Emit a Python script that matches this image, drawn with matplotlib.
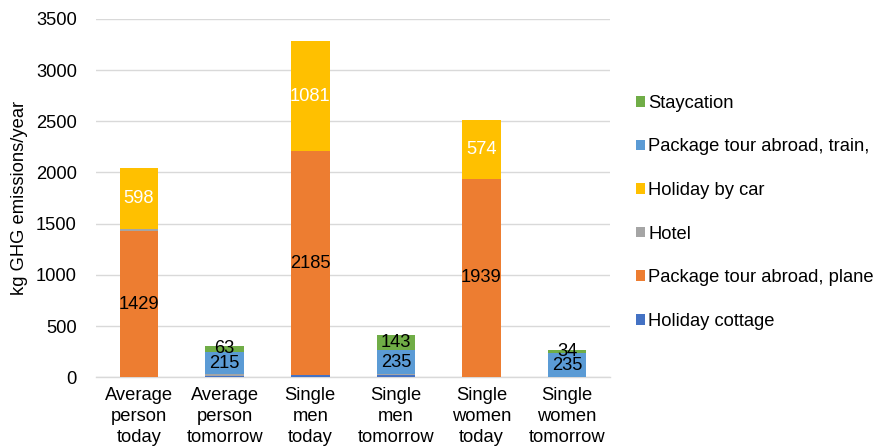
import numpy as np
import matplotlib.pyplot as plt

plt.rcParams['font.family'] = ['Liberation Sans', 'DejaVu Sans']

# 各組別與各類假期的年排放量 (kg GHG)
groups = ['Average\nperson\ntoday', 'Average\nperson\ntomorrow', 'Single\nmen\ntoday',
          'Single\nmen\ntomorrow', 'Single\nwomen\ntoday', 'Single\nwomen\ntomorrow']
holiday_cottage = [0, 10, 20, 20, 0, 0]
tour_plane = [1429, 0, 2185, 0, 1939, 0]
hotel = [20, 20, 0, 10, 0, 0]
holiday_car = [598, 0, 1081, 0, 574, 0]
tour_train = [0, 215, 0, 235, 0, 235]
staycation = [0, 63, 0, 143, 0, 34]

series_names = ['Holiday cottage', 'Package tour abroad, plane', 'Hotel',
                'Holiday by car', 'Package tour abroad, train,', 'Staycation']
series_values = [holiday_cottage, tour_plane, hotel, holiday_car, tour_train, staycation]
colors = ['#4472C4', '#ED7D31', '#A5A5A5', '#FFC000', '#5B9BD5', '#70AD47']
label_colors = [None, 'black', None, 'white', 'black', 'black']

fs = 13.2

fig = plt.figure(figsize=(8.75, 4.48), dpi=100)
ax = fig.add_axes([0.11, 0.158, 0.587, 0.80])

x = np.arange(len(groups))
bottom = np.zeros(len(groups))
for name, vals, c, lc in zip(series_names, series_values, colors, label_colors):
    vals = np.array(vals, dtype=float)
    bars = ax.bar(x, vals, 0.45, bottom=bottom, color=c, label=name, zorder=3)
    if lc is not None:
        labels = [str(int(v)) if v > 0 else '' for v in vals]
        ax.bar_label(bars, labels=labels, label_type='center', color=lc, fontsize=fs)
    bottom += vals

ax.set_ylim(0, 3500)
ax.set_xlim(-0.5, len(groups) - 0.5)
ax.set_yticks(np.arange(0, 3501, 500))
ax.set_xticks(x)
ax.set_xticklabels(groups, fontsize=fs, linespacing=1.3)
ax.tick_params(axis='y', labelsize=fs, length=0, pad=14)
ax.tick_params(axis='x', length=0, pad=7)
ax.set_ylabel('kg GHG emissions/year', fontsize=fs, labelpad=6)
ax.grid(axis='y', color='#D9D9D9', linewidth=1, zorder=0)
for s in ['top', 'right', 'left']:
    ax.spines[s].set_visible(False)
ax.spines['bottom'].set_color('#D9D9D9')
ax.spines['bottom'].set_linewidth(1)

handles, labs = ax.get_legend_handles_labels()
ax.legend(handles[::-1], labs[::-1], loc='center left', bbox_to_anchor=(1.025, 0.46),
          frameon=False, fontsize=fs, handlelength=0.5, handleheight=0.5,
          handletextpad=0.2, labelspacing=1.45, borderpad=0.2)

fig.savefig('out.png', dpi=100)
